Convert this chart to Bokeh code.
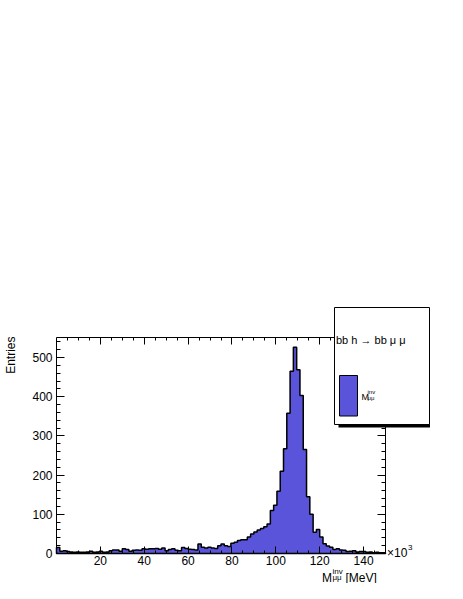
import math
import numpy as np
from bokeh.plotting import figure
from bokeh.models import (Range1d, FixedTicker, LinearAxis, Label, BoxAnnotation,
                          CustomJSTickFormatter)
from bokeh.embed import file_html
from bokeh.resources import INLINE

# ---------------- data ----------------
x_low = 0.0
x_high = 150.0
n_bins = 100
counts = [15, 6, 7, 5, 4, 3, 4, 3, 3, 4,
          6, 3, 4, 6, 3, 4, 7, 9, 9, 6,
          12, 10, 6, 8, 9, 8, 12, 11, 12, 12,
          13, 11, 14, 7, 10, 12, 8, 7, 15, 13,
          11, 10, 9, 24, 16, 14, 16, 14, 13, 20,
          24, 20, 18, 26, 29, 33, 35, 35, 42, 50,
          55, 60, 64, 68, 75, 110, 123, 159, 210, 267,
          358, 465, 526, 469, 403, 265, 145, 100, 54, 61,
          42, 25, 19, 16, 10, 12, 9, 8, 5, 6,
          7, 4, 5, 5, 3, 4, 2, 3, 2, 2]
y_max = 551.0
x_major = [20, 40, 60, 80, 100, 120, 140]
x_minor = list(range(5, 150, 5))
y_major = [0, 100, 200, 300, 400, 500]
y_minor = list(range(20, 551, 20))

legend_header = "bb h \u2192 bb \u03bc \u03bc"
x_title_main = "M"
x_title_sup = "inv"
x_title_sub = "\u03bc\u03bc"
x_title_unit = "[MeV]"
y_title = "Entries"
exp_base = "\u00d710"
exp_power = "3"

# ---------------- layout (canvas px) ----------------
W, H = 447, 583
FL, FR, FT, FB = 56, 385, 337, 553   # data-area box
FONT = "Liberation Sans"
FILL = "#5954D9"

def dx(sx):
    return x_low + (sx - FL) * (x_high - x_low) / (FR - FL)

def dy(sy):
    return (FB - sy) * y_max / (FB - FT)

p = figure(width=W, height=H,
           x_range=Range1d(dx(0), dx(W)), y_range=Range1d(dy(H), dy(0)),
           output_backend="svg", toolbar_location=None, title=None,
           x_axis_location=None, y_axis_location=None,
           min_border=0, min_border_left=0, min_border_right=0,
           min_border_top=0, min_border_bottom=0)
p.outline_line_color = None
p.background_fill_color = "white"
p.border_fill_color = "white"
p.xgrid.visible = False
p.ygrid.visible = False

# ---------------- histogram ----------------
edges = np.linspace(x_low, x_high, n_bins + 1)
c = np.asarray(counts, dtype=float)
xs = np.concatenate([[edges[0]], np.repeat(edges, 2)[1:-1], [edges[-1]]])
ys = np.concatenate([[0.0], np.repeat(c, 2), [0.0]])
p.patch(x=xs, y=ys, fill_color=FILL, line_color="black", line_width=1.5)

# ---------------- axes (frame) ----------------
xt = FixedTicker(ticks=x_major, minor_ticks=x_minor)
yt = FixedTicker(ticks=y_major, minor_ticks=y_minor)

bottom_ax = LinearAxis(ticker=xt, fixed_location=0.0, bounds=(x_low, x_high))
top_ax = LinearAxis(ticker=xt, fixed_location=y_max, bounds=(x_low, x_high),
                    formatter=CustomJSTickFormatter(code="return ''"))
left_ax = LinearAxis(ticker=yt, fixed_location=x_low, bounds=(0.0, y_max))
right_ax = LinearAxis(ticker=yt, fixed_location=x_high, bounds=(0.0, y_max),
                      formatter=CustomJSTickFormatter(code="return ''"))
p.add_layout(bottom_ax, "below")
p.add_layout(top_ax, "above")
p.add_layout(left_ax, "left")
p.add_layout(right_ax, "right")

for ax in [bottom_ax, top_ax]:
    ax.major_tick_in = 7
    ax.minor_tick_in = 3
for ax in [left_ax, right_ax]:
    ax.major_tick_in = 8
    ax.minor_tick_in = 4
for ax in [bottom_ax, top_ax, left_ax, right_ax]:
    ax.major_tick_out = 0
    ax.minor_tick_out = 0
    ax.axis_line_color = "black"
    ax.axis_line_width = 1
    ax.major_tick_line_color = "black"
    ax.minor_tick_line_color = "black"
    ax.major_label_text_font = FONT
    ax.major_label_text_font_size = "12px"
    ax.major_label_text_color = "black"
bottom_ax.major_label_standoff = 2
left_ax.major_label_standoff = 4
top_ax.major_label_standoff = 0
right_ax.major_label_standoff = 0

def lab(sx, sy, text, size, align="left", baseline="alphabetic", angle=0.0):
    p.add_layout(Label(x=dx(sx), y=dy(sy), text=text, text_font=FONT,
                       text_font_size=f"{size}px", text_color="black",
                       text_align=align, text_baseline=baseline, angle=angle))

# y title
lab(10, 336, y_title, 12, align="right", baseline="middle", angle=math.pi / 2)
# x title
lab(321.5, 577, x_title_main, 12)
lab(332, 571, x_title_sup, 8)
lab(332, 576.5, x_title_sub, 8)
lab(345, 577, x_title_unit, 12)
# exponent
lab(386.5, 552, exp_base, 12)
lab(407.5, 546.7, exp_power, 8)

# ---------------- legend ----------------
p.add_layout(BoxAnnotation(left=dx(338), right=dx(429.5), top=dy(423), bottom=dy(427),
                           fill_color="black", fill_alpha=1, line_color=None))
p.add_layout(BoxAnnotation(left=dx(334), right=dx(429), top=dy(307), bottom=dy(424),
                           fill_color="white", fill_alpha=1, line_color="black",
                           line_width=1, line_alpha=1))
lab(335.5, 339.5, legend_header, 11)
p.add_layout(BoxAnnotation(left=dx(339), right=dx(357), top=dy(375), bottom=dy(415.5),
                           fill_color=FILL, fill_alpha=1, line_color="black",
                           line_width=1, line_alpha=1))
lab(361, 396.5, "M", 9)
lab(367, 391, "inv", 6)
lab(367, 397.5, "\u03bc\u03bc", 6)

open("out.html", "w").write(file_html(p, INLINE))
